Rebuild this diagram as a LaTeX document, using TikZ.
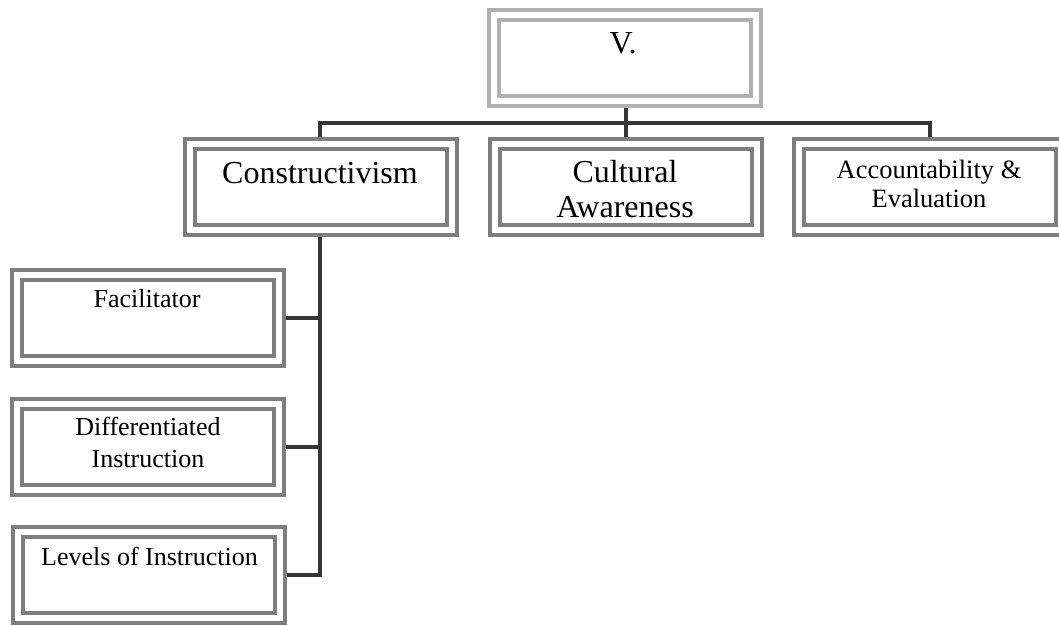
\documentclass[tikz,border=0pt]{standalone}
\usepackage{fontspec}
\setmainfont{Liberation Serif}
\usetikzlibrary{backgrounds}
\definecolor{frame}{HTML}{7E7E7E}
\definecolor{framelight}{HTML}{B0B0B0}
\definecolor{wire}{HTML}{353535}
\tikzset{
  x=1pt, y=-1pt,
  box/.style={rectangle, draw=frame, double=white, line width=4pt,
    double distance=6pt, minimum width=262pt, minimum height=86pt,
    inner sep=0pt, fill=white},
  rootbox/.style={box, draw=framelight},
  bigtxt/.style={anchor=base, inner sep=0pt, align=center,
    font=\fontsize{32}{35}\selectfont},
  smalltxt/.style={anchor=base, inner sep=0pt, align=center,
    font=\fontsize{26}{32}\selectfont},
  wirestyle/.style={draw=wire, line width=4pt}
}
\begin{document}
\begin{tikzpicture}
\useasboundingbox (0,0) rectangle (1059,625);

% boxes
\node[rootbox] (root) at (624.5,57.5) {};
\node[box] (constr) at (321,187) {};
\node[box] (cult) at (625.5,187) {};
\node[box] (acct) at (930,187) {};
\node[box] (facil) at (148,317.5) {};
\node[box] (diff) at (148,447) {};
\node[box] (levels) at (149,575) {};

% labels (base anchor sits on the last line of each label)
\node[bigtxt] (rootlbl) at (623,53) {V.};
\node[bigtxt] (constrlbl) at (320,183) {Constructivism};
\node[bigtxt] (cultlbl) at (625,217) {Cultural\\Awareness};
\node[smalltxt, font=\fontsize{26.5}{29}\selectfont] (acctlbl) at (929,207) {Accountability \&\\Evaluation};
\node[smalltxt] (faciltxt) at (147,307) {Facilitator};
\node[smalltxt] (difftxt) at (148,467) {Differentiated\\Instruction};
\node[smalltxt] (levelstxt) at (149.5,565) {Levels of Instruction};

% connectors
\coordinate (bar) at (0,123);
\coordinate (trunk) at (320,0);
\begin{scope}[on background layer]
  \draw[wirestyle] (cult.north |- root.south) -- (cult.north);
  \draw[wirestyle] (constr.north -| trunk) -- (trunk |- bar) -- (acct.north |- bar) -- (acct.north);
  \draw[wirestyle] (constr.south -| trunk) -- (trunk |- levels.east) -- (levels.east);
  \draw[wirestyle] (facil.east) -- (trunk |- facil.east);
  \draw[wirestyle] (diff.east) -- (trunk |- diff.east);
\end{scope}
\end{tikzpicture}
\end{document}
